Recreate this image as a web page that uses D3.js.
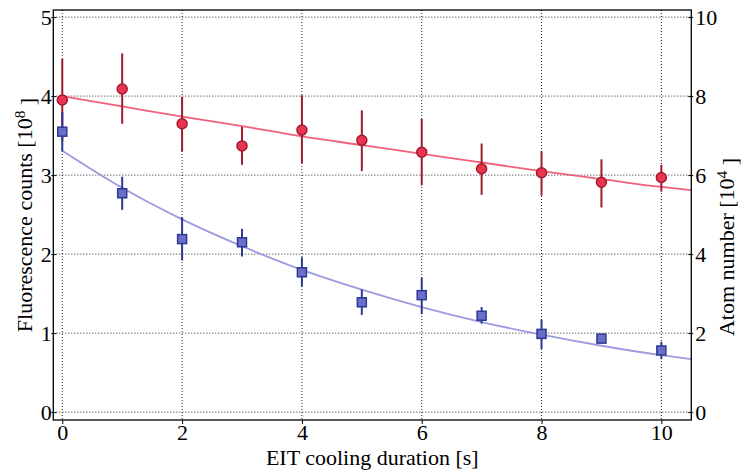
<!DOCTYPE html>
<html>
<head>
<meta charset="utf-8">
<script src="https://cdn.jsdelivr.net/npm/d3@7"></script>
<style>
  html, body { margin: 0; padding: 0; background: #fff; }
  svg { display: block; }
  svg text { font-family: "Liberation Serif", "Times New Roman", Times, "DejaVu Serif", serif !important; }
</style>
</head>
<body>
<svg id="chart" width="742" height="471"></svg>
<script>
// Cooling duration (s)
const durations = [0, 1, 2, 3, 4, 5, 6, 7, 8, 9, 10];

// Fluorescence counts (units of 1e8) with lower / upper error bounds
const fluorValues = [3.95, 4.09, 3.65, 3.37, 3.57, 3.44, 3.29, 3.08, 3.03, 2.91, 2.97];
const fluorLow    = [3.43, 3.65, 3.30, 3.13, 3.15, 3.05, 2.87, 2.75, 2.74, 2.59, 2.79];
const fluorHigh   = [4.47, 4.54, 3.99, 3.61, 4.01, 3.82, 3.71, 3.40, 3.30, 3.20, 3.13];

// Atom number plotted on the left-axis scale (right axis = 2x, units of 1e4)
const atomValues = [3.55, 2.77, 2.19, 2.15, 1.77, 1.39, 1.48, 1.22, 0.99, 0.93, 0.78];
const atomLow    = [3.30, 2.56, 1.92, 1.97, 1.59, 1.23, 1.24, 1.12, 0.80, 0.90, 0.67];
const atomHigh   = [3.80, 2.98, 2.47, 2.32, 1.96, 1.55, 1.70, 1.33, 1.17, 0.96, 0.89];

// Fitted decay curves, sampled along the duration axis
const fitX     = [0, 1, 2, 3, 4, 5, 6, 7, 8, 9, 10, 10.5];
const fluorFit = [4.00, 3.87, 3.74, 3.62, 3.49, 3.38, 3.27, 3.16, 3.05, 2.95, 2.85, 2.81];
const atomFit  = [3.31, 2.84, 2.44, 2.10, 1.80, 1.55, 1.33, 1.14, 0.98, 0.84, 0.72, 0.67];

// Tick labels
const xTicks = [0, 2, 4, 6, 8, 10];
const leftTicks = [0, 1, 2, 3, 4, 5];
const rightTicks = [0, 2, 4, 6, 8, 10];

const svg = d3.select("#chart");
const L = 53.3, R = 691.3, T = 10, B = 420;

const x = d3.scaleLinear().domain([-0.15, 10.5]).range([L, R]);
const y = d3.scaleLinear().domain([-0.1, 5.09]).range([B, T]);
const y2 = d3.scaleLinear().domain([-0.2, 10.18]).range([B, T]);

const FS = 22;

// Dotted grid
const grid = svg.append("g");
grid.selectAll("line.gx").data(xTicks).join("line")
  .attr("x1", d => x(d)).attr("x2", d => x(d))
  .attr("y1", T).attr("y2", B)
  .attr("stroke", "#222").attr("stroke-width", 1).attr("stroke-dasharray", "1,2");
grid.selectAll("line.gy").data(leftTicks).join("line")
  .attr("x1", L).attr("x2", R)
  .attr("y1", d => y(d)).attr("y2", d => y(d))
  .attr("stroke", "#222").attr("stroke-width", 1).attr("stroke-dasharray", "1,2");

// Fit lines
const line = d3.line().x(d => x(d[0])).y(d => y(d[1])).curve(d3.curveMonotoneX);
svg.append("path").datum(fitX.map((v, i) => [v, fluorFit[i]]))
  .attr("d", line).attr("fill", "none").attr("stroke", "#f0607a").attr("stroke-width", 1.8);
svg.append("path").datum(fitX.map((v, i) => [v, atomFit[i]]))
  .attr("d", line).attr("fill", "none").attr("stroke", "#9c9ae0").attr("stroke-width", 1.8);

// Fluorescence series: error bars and circles
const red = svg.append("g");
red.selectAll("line").data(durations).join("line")
  .attr("x1", d => x(d)).attr("x2", d => x(d))
  .attr("y1", (d, i) => y(fluorLow[i])).attr("y2", (d, i) => y(fluorHigh[i]))
  .attr("stroke", "#a11b2e").attr("stroke-width", 2);
red.selectAll("circle").data(durations).join("circle")
  .attr("cx", d => x(d)).attr("cy", (d, i) => y(fluorValues[i])).attr("r", 5)
  .attr("fill", "#ea3550").attr("stroke", "#a11b2e").attr("stroke-width", 1.5);

// Atom number series: error bars and squares
const blue = svg.append("g");
blue.selectAll("line").data(durations).join("line")
  .attr("x1", d => x(d)).attr("x2", d => x(d))
  .attr("y1", (d, i) => y(atomLow[i])).attr("y2", (d, i) => y(atomHigh[i]))
  .attr("stroke", "#2c3a92").attr("stroke-width", 2);
const S = 9;
blue.selectAll("rect").data(durations).join("rect")
  .attr("x", d => x(d) - S / 2).attr("y", (d, i) => y(atomValues[i]) - S / 2)
  .attr("width", S).attr("height", S)
  .attr("fill", "#6a6ec9").attr("stroke", "#2c3a92").attr("stroke-width", 1.5);

// Axes
const bottomAxis = d3.axisBottom(x).tickValues(xTicks).tickSize(4).tickPadding(1).tickFormat(d3.format("d"));
const leftAxis = d3.axisLeft(y).tickValues(leftTicks).tickSize(4).tickPadding(0).tickFormat(d3.format("d"));
const rightAxis = d3.axisRight(y2).tickValues(rightTicks).tickSize(4).tickPadding(0).tickFormat(d3.format("d"));

function styleAxis(g) {
  g.attr("font-family", null).attr("font-size", null);
  g.select(".domain").remove();
  g.selectAll(".tick line").attr("stroke", "#000").attr("stroke-width", 1);
  g.selectAll(".tick text").attr("font-size", FS).attr("fill", "#000");
}

svg.append("g").attr("transform", `translate(0,${B})`).call(bottomAxis).call(styleAxis)
  .selectAll(".tick text").attr("dy", "0.7em");
const gLeft = svg.append("g").attr("transform", `translate(${L},0)`).call(leftAxis).call(styleAxis);
gLeft.selectAll(".tick line").attr("x2", -2).attr("x1", 3);
gLeft.selectAll(".tick text").attr("x", -1.5);
svg.append("g").attr("transform", `translate(${R},0)`).call(rightAxis).call(styleAxis)
  .selectAll(".tick line").attr("x2", 2).attr("x1", -3);

// Frame
svg.append("rect").attr("x", L).attr("y", T).attr("width", R - L).attr("height", B - T)
  .attr("fill", "none").attr("stroke", "#000").attr("stroke-width", 1.3);

// Axis titles
svg.append("text").attr("x", (L + R) / 2).attr("y", 465).attr("text-anchor", "middle")
  .attr("font-size", FS).text("EIT cooling duration [s]");

const leftTitle = svg.append("text")
  .attr("transform", `translate(32,${(T + B) / 2}) rotate(-90)`)
  .attr("text-anchor", "middle").attr("font-size", FS);
leftTitle.append("tspan").text("Fluorescence counts [10");
leftTitle.append("tspan").attr("dy", "-0.45em").attr("font-size", FS * 0.7).text("8");
leftTitle.append("tspan").attr("dy", "0.45em").text(" ]");

const rightTitle = svg.append("text")
  .attr("transform", `translate(734,${(T + B) / 2 + 32}) rotate(-90)`)
  .attr("text-anchor", "middle").attr("font-size", FS);
rightTitle.append("tspan").text("Atom number [10");
rightTitle.append("tspan").attr("dy", "-0.45em").attr("font-size", FS * 0.7).text("4");
rightTitle.append("tspan").attr("dy", "0.45em").text(" ]");
</script>
</body>
</html>
